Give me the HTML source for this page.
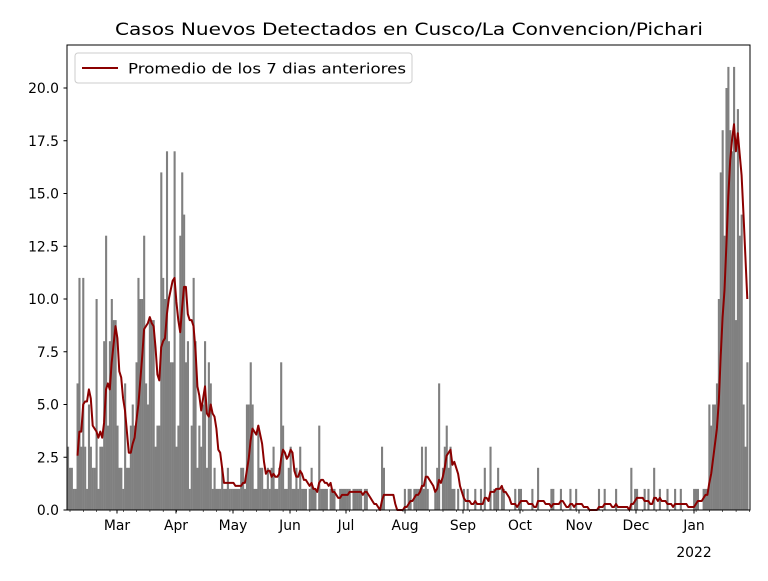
<!DOCTYPE html>
<html><head><meta charset="utf-8"><style>
body{margin:0;background:#fff}
svg{font-family:"DejaVu Sans","Liberation Sans",sans-serif}
</style></head><body>
<svg id="s" width="768" height="576" xmlns="http://www.w3.org/2000/svg">
<rect width="768" height="576" fill="#fff"/>
<g id="bars"></g>
<polyline id="avg" fill="none" stroke="#8b0000" stroke-width="2" stroke-linejoin="round"/>
<rect x="67" y="45" width="683" height="465" fill="none" stroke="#000" stroke-width="1"/>
<g id="ax" font-size="13.9" fill="#000"></g>
<text x="115" y="35" font-size="16.7" textLength="588" lengthAdjust="spacingAndGlyphs">Casos Nuevos Detectados en Cusco/La Convencion/Pichari</text>
<rect x="75" y="53" width="337" height="30" rx="3" fill="#fff" fill-opacity="0.8" stroke="#ccc"/>
<line x1="82" y1="68" x2="118" y2="68" stroke="#8b0000" stroke-width="2"/>
<text x="128" y="73.5" font-size="13.9" textLength="278" lengthAdjust="spacingAndGlyphs">Promedio de los 7 dias anteriores</text>
</svg>
<script>
var d=[3,2,2,1,1,6,11,3,11,3,1,5,3,2,2,10,1,3,3,8,13,4,8,10,9,9,
4,2,2,1,6,2,2,4,5,4,7,11,10,10,13,6,5,9,9,9,3,4,4,16,11,10,17,8,7,7,17,
3,4,13,16,14,7,8,1,4,11,8,2,4,3,5,8,2,7,6,1,2,1,1,1,2,1,1,2,1,1,
1,1,1,1,2,2,1,5,5,7,5,1,1,4,2,2,1,1,2,1,2,3,1,1,2,7,4,1,1,2,3,
1,1,2,1,3,1,1,1,0,1,2,1,1,0,4,1,1,1,1,0,1,1,1,0,0,1,1,1,1,1,
1,0,1,1,1,1,1,0,1,1,0,0,0,0,0,0,0,3,2,0,0,0,0,0,0,0,0,0,0,1,0,
1,1,0,1,1,1,1,3,1,3,1,0,0,0,1,2,6,0,2,3,4,2,3,1,1,0,1,0,0,1,0,
1,0,0,0,1,0,0,1,0,2,0,0,3,0,1,1,2,0,1,1,0,0,0,0,0,1,0,1,1,0,
0,0,0,0,1,0,0,2,0,0,0,0,0,0,1,1,0,0,0,1,0,0,0,0,1,0,0,1,0,0,0,
0,0,0,0,0,0,0,0,1,0,0,1,0,0,0,0,0,1,0,0,0,0,0,0,0,2,0,1,1,0,
0,0,1,0,1,0,0,2,0,0,1,0,0,0,1,0,0,0,1,0,0,1,0,0,0,0,0,0,1,1,1,
0,0,1,1,1,5,4,5,5,6,10,16,18,13,20,21,18,17,21,9,19,13,14,5,3,7];
var pd=1.903,x0=67,y0=510,ys=21.1;
var b=document.getElementById('bars'),h='';
d.forEach(function(v,i){if(v>0)h+='<rect x="'+(x0+i*pd).toFixed(2)+'" y="'+(y0-v*ys).toFixed(2)+'" width="'+(pd+0.2).toFixed(2)+'" height="'+(v*ys).toFixed(2)+'" fill="#808080"/>';});
b.innerHTML=h;
var p=[];
for(var i=5;i<d.length;i++){var s=0;for(var k=i-6;k<=i;k++)s+=d[Math.max(0,k)];p.push((x0+(i+0.5)*pd).toFixed(1)+','+(y0-s/7*ys).toFixed(1));}
document.getElementById('avg').setAttribute('points',p.join(' '));
var a='';
for(var v=0;v<=20;v+=2.5){var y=y0-v*ys;a+='<line x1="63.5" y1="'+y+'" x2="67" y2="'+y+'" stroke="#000"/><text x="59" y="'+(y+5)+'" text-anchor="end">'+v.toFixed(1)+'</text>';}
var m=[[117,'Mar'],[176,'Apr'],[233,'May'],[290,'Jun'],[346,'Jul'],[405,'Aug'],[463,'Sep'],[520,'Oct'],[579,'Nov'],[636,'Dec'],[694,'Jan']];
m.forEach(function(t){a+='<line x1="'+t[0]+'" y1="510" x2="'+t[0]+'" y2="513.5" stroke="#000"/><text x="'+t[0]+'" y="530" text-anchor="middle">'+t[1]+'</text>';});
a+='<text x="694" y="557" text-anchor="middle">2022</text>';
for(var x=70;x<750;x+=7*pd)a+='<line x1="'+x.toFixed(1)+'" y1="510" x2="'+x.toFixed(1)+'" y2="512" stroke="#000" stroke-width="0.6"/>';
document.getElementById('ax').innerHTML=a;
</script>
</body></html>
